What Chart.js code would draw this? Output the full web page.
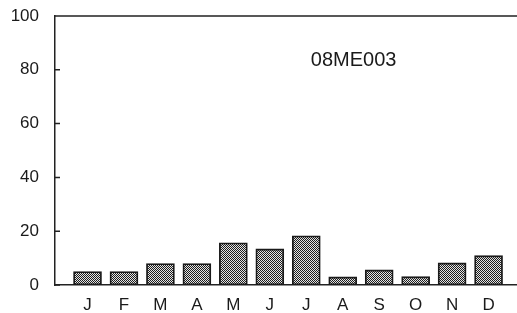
<!DOCTYPE html>
<html>
<head>
<meta charset="utf-8">
<script src="https://cdn.jsdelivr.net/npm/chart.js@4"></script>
<style>
  html, body { margin: 0; padding: 0; background: #fff; overflow: hidden; }
  #wrap { width: 517px; height: 313px; }
</style>
</head>
<body>
<div id="wrap"><canvas id="flowChart" width="517" height="313"></canvas></div>
<script>
const months = ['J', 'F', 'M', 'A', 'M', 'J', 'J', 'A', 'S', 'O', 'N', 'D'];
const values = [5, 5, 8, 8, 15.7, 13.4, 18.3, 3, 5.6, 3.1, 8.2, 10.9];
const yTicks = [0, 20, 40, 60, 80, 100];
const stationLabel = '08ME003';

document.addEventListener('DOMContentLoaded', function() {
  const ctx = document.getElementById('flowChart');

  // small dotted fill like the old printed shading
  const tile = document.createElement('canvas');
  tile.width = 2; tile.height = 2;
  const t = tile.getContext('2d');
  t.fillStyle = '#e4e4e4'; t.fillRect(0, 0, 2, 2);
  t.fillStyle = '#1e1e1e'; t.fillRect(0, 0, 1, 1); t.fillRect(1, 1, 1, 1);
  const shade = ctx.getContext('2d').createPattern(tile, 'repeat');

  // frame top line, inward y ticks and the station id
  const extras = {
    id: 'extras',
    afterDraw(chart) {
      const c = chart.ctx, a = chart.chartArea, y = chart.scales.y;
      c.save();
      c.strokeStyle = '#222';
      c.lineWidth = 1.5;
      c.beginPath();
      c.moveTo(a.left, a.top);
      c.lineTo(chart.width, a.top);
      yTicks.forEach(function(v) {
        const py = y.getPixelForValue(v);
        c.moveTo(a.left, py);
        c.lineTo(a.left + 5, py);
      });
      c.stroke();
      c.fillStyle = '#1a1a1a';
      c.font = '20px "Liberation Sans", Arial, sans-serif';
      c.textAlign = 'center';
      c.textBaseline = 'middle';
      c.fillText(stationLabel, chart.scales.x.getPixelForValue(8.3), y.getPixelForValue(83.6));
      c.restore();
    }
  };

  new Chart(ctx, {
    type: 'bar',
    data: {
      datasets: [{
        data: values.map(function(v, i) { return { x: i + 1, y: v }; }),
        backgroundColor: shade,
        borderColor: '#1a1a1a',
        borderWidth: 1.8,
        borderSkipped: false,
        barThickness: 28
      }]
    },
    options: {
      responsive: false,
      animation: false,
      layout: { padding: { top: 16, right: 0, left: 0, bottom: 0 } },
      plugins: { legend: { display: false }, tooltip: { enabled: false } },
      scales: {
        x: {
          type: 'linear',
          offset: false,
          min: 0.108,
          max: 12.78,
          grid: { display: false, drawTicks: false },
          border: { display: true, color: '#222', width: 1.5 },
          afterBuildTicks: function(scale) {
            scale.ticks = months.map(function(m, i) { return { value: i + 1 }; });
          },
          ticks: {
            padding: 10,
            color: '#1a1a1a',
            font: { family: '"Liberation Sans", Arial, sans-serif', size: 17 },
            callback: function(v) { return months[v - 1] || ''; }
          },
          afterFit: function(scale) {
            scale.height = 28;
            scale.paddingLeft = 0; scale.paddingRight = 0;
          }
        },
        y: {
          min: 0,
          max: 100,
          grid: { display: false, drawTicks: false },
          border: { display: true, color: '#222', width: 1.5 },
          afterBuildTicks: function(scale) {
            scale.ticks = yTicks.map(function(v) { return { value: v }; });
          },
          ticks: {
            padding: 16,
            color: '#1a1a1a',
            font: { family: '"Liberation Sans", Arial, sans-serif', size: 17 }
          },
          afterFit: function(scale) {
            scale.width = 55;
            scale.paddingTop = 0; scale.paddingBottom = 0;
          }
        }
      }
    },
    plugins: [extras]
  });
});
</script>
</body>
</html>
